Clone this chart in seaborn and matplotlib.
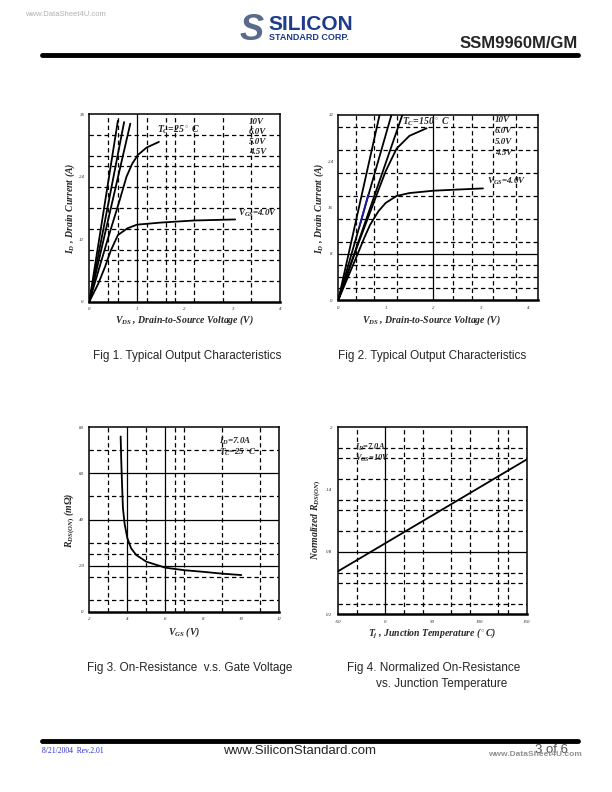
import numpy as np
import pandas as pd
import matplotlib
matplotlib.use("Agg")
import matplotlib.pyplot as plt
import seaborn as sns

# ---- data ----
# Fig 1, Tc = 25 C
f1_vds_10v = [0, 0.60]
f1_id_10v = [0, 34.8]
f1_vds_6v = [0, 0.73]
f1_id_6v = [0, 34.5]
f1_vds_5v = [0, 0.86]
f1_id_5v = [0, 34.2]
f1_vds_45v = [0, 0.2, 0.4, 0.64, 0.78, 0.9, 1.02, 1.2, 1.46]
f1_id_45v = [0, 6.2, 12.4, 19.6, 24.0, 26.5, 28.2, 29.6, 30.7]
f1_vds_4v = [0, 0.19, 0.33, 0.45, 0.6, 0.8, 1.0, 1.5, 2.2, 3.06]
f1_id_4v = [0, 3.5, 6.7, 9.8, 12.8, 14.1, 14.8, 15.2, 15.6, 15.8]

# Fig 2, Tc = 150 C
f2_vds_10v = [0, 0.87]
f2_id_10v = [0, 32.0]
f2_vds_6v = [0, 1.12]
f2_id_6v = [0, 32.0]
f2_vds_6v_blue = [0.45, 0.63]
f2_id_6v_blue = [12.8, 18.2]
f2_vds_5v = [0, 1.35]
f2_id_5v = [0, 32.0]
f2_vds_45v = [0, 0.4, 0.8, 1.0, 1.23, 1.5, 1.86]
f2_id_45v = [0, 9.3, 18.0, 22.3, 26.2, 28.4, 29.7]
f2_vds_4v = [0, 0.2, 0.39, 0.55, 0.67, 0.85, 1.0, 1.23, 1.5, 2.0, 2.5, 3.05]
f2_id_4v = [0, 3.9, 7.6, 10.8, 13.0, 15.4, 16.8, 18.0, 18.5, 18.9, 19.1, 19.3]

# Fig 3, RDS(on) vs VGS
f3_vgs = [3.65, 3.68, 3.72, 3.77, 3.86, 4.0, 4.2, 4.47, 5.0, 6.0, 7.0, 8.0, 9.0, 10.0]
f3_rds = [76, 66, 56, 45, 38, 32, 27.5, 24.6, 21.7, 19.1, 18.0, 17.3, 16.5, 15.9]

# Fig 4, normalized RDS(on) vs Tj
f4_tj = [-50, 0, 50, 100, 150]
f4_rn = [0.61, 0.88, 1.15, 1.42, 1.69]

# grid lines of each panel (dashed / solid)
f1_vdash = [0.4, 0.6, 1.2, 1.6, 1.8, 2.2, 2.8, 3.4]
f1_vsolid = [1.0]
f1_hdash = [4, 8, 10, 14, 18, 22, 26, 28, 32]
f1_hsolid = []
f2_vdash = [0.38, 0.76, 1.24, 2.42, 2.81, 3.26, 3.75]
f2_vsolid = [2.0]
f2_hdash = [2, 4, 6, 10, 14, 18, 22, 26, 30]
f2_hsolid = [8]
f3_vdash = [3, 5, 6.5, 7, 9, 11]
f3_vsolid = [4, 6]
f3_hdash = [5, 15, 25, 30, 50, 70]
f3_hsolid = [20, 40, 60]
f4_vdash = [-30, 20, 40, 70, 90, 120, 130]
f4_vsolid = [0]
f4_hdash = [0.3, 0.5, 0.6, 1.0, 1.2, 1.3, 1.5, 1.7, 1.8]
f4_hsolid = [0.8]

sns.set_style("white")
plt.rcParams['font.family'] = ['Liberation Serif', 'DejaVu Sans']
plt.rcParams['mathtext.fontset'] = 'custom'
plt.rcParams['mathtext.it'] = 'Liberation Serif:italic:bold'
plt.rcParams['mathtext.rm'] = 'Liberation Serif:bold'
plt.rcParams['mathtext.bf'] = 'Liberation Serif:bold'

W, H = 612, 792
fig = plt.figure(figsize=(6.12, 7.92), dpi=100)


def make_ax(left, top, right, bottom):
    return fig.add_axes([left / W, 1 - bottom / H, (right - left) / W, (bottom - top) / H])


def grid(ax, vdash, vsolid, hdash, hsolid):
    for v in vdash:
        ax.axvline(v, color='black', lw=0.9, ls=(0, (3.5, 2.5)), zorder=1)
    for v in vsolid:
        ax.axvline(v, color='black', lw=0.9, zorder=1)
    for h in hdash:
        ax.axhline(h, color='black', lw=0.9, ls=(0, (3.5, 2.5)), zorder=1)
    for h in hsolid:
        ax.axhline(h, color='black', lw=0.9, zorder=1)


def style(ax, xlim, ylim, xticks, yticks):
    ax.set_xlim(*xlim)
    ax.set_ylim(*ylim)
    ax.set_xticks(xticks)
    ax.set_yticks(yticks)
    ax.set_xticklabels([str(t) for t in xticks], fontsize=3.5, style='italic')
    ax.set_yticklabels([str(t) for t in yticks], fontsize=3.5, style='italic')
    ax.tick_params(length=0, pad=4)
    for s in ax.spines.values():
        s.set_color('black')
        s.set_linewidth(1.1)
    ax.spines['bottom'].set_linewidth(1.8)
    ax.set_xlabel('')
    ax.set_ylabel('')


def curve(ax, x, y, color='black', lw=1.3):
    sns.lineplot(x=x, y=y, ax=ax, color=color, lw=lw, estimator=None, sort=False, zorder=3)


lab = dict(fontsize=7, fontweight='bold', style='italic')
small = dict(fontsize=6.5, fontweight='bold', style='italic', va='center')

# ---------- Fig 1 ----------
ax1 = make_ax(89.3, 114.3, 280, 301.7)
grid(ax1, f1_vdash, f1_vsolid, f1_hdash, f1_hsolid)
for x, y in [(f1_vds_10v, f1_id_10v), (f1_vds_6v, f1_id_6v), (f1_vds_5v, f1_id_5v),
             (f1_vds_45v, f1_id_45v), (f1_vds_4v, f1_id_4v)]:
    curve(ax1, x, y)
style(ax1, (0, 4), (0, 36), [0, 1, 2, 3, 4], [0, 12, 24, 36])
ax1.text(1.43, 33.0, r'$T_C$=25$^\circ$ C', fontsize=7, fontweight='bold', style='italic', va='center')
for i, t in enumerate(['10V', '6.0V', '5.0V', '4.5V']):
    ax1.text(3.35, 34.6 - i * 1.95, t, **small)
ax1.text(3.12, 17.0, r'$V_{GS}$=4.0V', **small)
fig.text(70 / W, 1 - 208 / H, r'$I_D$ , Drain Current (A)', rotation=90, ha='center', va='center', **lab)
fig.text(185 / W, 1 - 320 / H, r'$V_{DS}$ , Drain-to-Source Voltage (V)', ha='center', va='center', **lab)

# ---------- Fig 2 ----------
ax2 = make_ax(338.3, 115, 538, 300)
grid(ax2, f2_vdash, f2_vsolid, f2_hdash, f2_hsolid)
for x, y in [(f2_vds_10v, f2_id_10v), (f2_vds_6v, f2_id_6v), (f2_vds_5v, f2_id_5v),
             (f2_vds_45v, f2_id_45v), (f2_vds_4v, f2_id_4v)]:
    curve(ax2, x, y)
curve(ax2, f2_vds_6v_blue, f2_id_6v_blue, color='#1a1aa8')
style(ax2, (0, 4.21), (0, 32), [0, 1, 2, 3, 4], [0, 8, 16, 24, 32])
ax2.text(1.34, 30.8, r'$T_C$=150$^\circ$ C', fontsize=7, fontweight='bold', style='italic', va='center')
for i, t in enumerate(['10V', '6.0V', '5.0V', '4.5V']):
    ax2.text(3.3, 31.1 - i * 1.9, t, **small)
ax2.text(3.13, 20.5, r'$V_{GS}$=4.0V', **small)
fig.text(319 / W, 1 - 208 / H, r'$I_D$ , Drain Current (A)', rotation=90, ha='center', va='center', **lab)
fig.text(432 / W, 1 - 320 / H, r'$V_{DS}$ , Drain-to-Source Voltage (V)', ha='center', va='center', **lab)

# ---------- Fig 3 ----------
ax3 = make_ax(89.3, 427.3, 279.3, 611.7)
grid(ax3, f3_vdash, f3_vsolid, f3_hdash, f3_hsolid)
curve(ax3, f3_vgs, f3_rds)
style(ax3, (2, 12), (0, 80), [2, 4, 6, 8, 10, 12], [0, 20, 40, 60, 80])
ax3.text(8.8, 74.0, r'$I_D$=7.0A', **small)
ax3.text(8.8, 69.0, r'$T_C$=25$^\circ$C', **small)
fig.text(70 / W, 1 - 520 / H, r'$R_{DS(ON)}$ (m$\Omega$)', rotation=90, ha='center', va='center', **lab)
fig.text(184 / W, 1 - 632 / H, r'$V_{GS}$ (V)', ha='center', va='center', **lab)

# ---------- Fig 4 ----------
ax4 = make_ax(337.7, 427.3, 526.7, 614)
grid(ax4, f4_vdash, f4_vsolid, f4_hdash, f4_hsolid)
curve(ax4, f4_tj, f4_rn)
style(ax4, (-50, 150), (0.2, 2.0), [-50, 0, 50, 100, 150], [0.2, 0.8, 1.4, 2])
ax4.text(-32, 1.81, r'$I_D$=7.0A', fontsize=6, fontweight='bold', style='italic', va='center')
ax4.text(-32, 1.70, r'$V_{GS}$=10V', fontsize=6, fontweight='bold', style='italic', va='center')
fig.text(316 / W, 1 - 520 / H, r'Normalized $R_{DS(ON)}$', rotation=90, ha='center', va='center', **lab)
fig.text(432 / W, 1 - 633 / H, r'$T_j$ , Junction Temperature ($^\circ$C)', ha='center', va='center', **lab)

# ---------- captions ----------
cap = dict(fontsize=8.5, family=['Liberation Sans', 'DejaVu Sans'], va='center')
fig.text(187 / W, 1 - 356 / H, 'Fig 1. Typical Output Characteristics', ha='center', **cap)
fig.text(432 / W, 1 - 356 / H, 'Fig 2. Typical Output Characteristics', ha='center', **cap)
fig.text(190 / W, 1 - 668 / H, 'Fig 3. On-Resistance  v.s. Gate Voltage', ha='center', **cap)
fig.text(347 / W, 1 - 668 / H, 'Fig 4. Normalized On-Resistance', ha='left', **cap)
fig.text(376 / W, 1 - 684 / H, 'vs. Junction Temperature', ha='left', **cap)

# ---------- header / footer ----------
fig.text(25 / W, 1 - 14 / H, 'www.DataSheet4U.com', fontsize=5.5, color='#b0b0b0',
         family=['Liberation Sans', 'DejaVu Sans'], va='center')
fig.text(240 / W, 1 - 31 / H, 'S', fontsize=26, color='#5a6a8a', fontweight='bold', style='italic',
         family=['Liberation Sans', 'DejaVu Sans'], va='center')
fig.text(268 / W, 1 - 25 / H, 'SILICON', fontsize=15, color='#1d3c8c', fontweight='bold',
         family=['Liberation Sans', 'DejaVu Sans'], va='center')
fig.text(269 / W, 1 - 38 / H, 'STANDARD CORP.', fontsize=6.5, color='#1d3c8c', fontweight='bold',
         family=['Liberation Sans', 'DejaVu Sans'], va='center')
fig.text(578 / W, 1 - 43 / H, 'SSM9960M/GM', fontsize=12, fontweight='bold', ha='right',
         family=['Liberation Sans', 'DejaVu Sans'], va='center')
fig.add_artist(plt.Line2D([42 / W, 578 / W], [1 - 55 / H, 1 - 55 / H], color='black', lw=3.5))
fig.add_artist(plt.Line2D([42 / W, 578 / W], [1 - 741 / H, 1 - 741 / H], color='black', lw=3.5))
fig.text(42 / W, 1 - 751 / H, '8/21/2004  Rev.2.01', fontsize=5.5, color='#2b2bd0', va='center')
fig.text(300 / W, 1 - 751 / H, 'www.SiliconStandard.com', fontsize=9.5, ha='center', va='center',
         family=['Liberation Sans', 'DejaVu Sans'])
fig.text(568 / W, 1 - 750 / H, '3 of 6', fontsize=9.5, ha='right', va='center', color='#555555',
         family=['Liberation Sans', 'DejaVu Sans'])
fig.text(582 / W, 1 - 755 / H, 'www.DataSheet4U.com', fontsize=6, ha='right', va='center', color='#909090',
         fontweight='bold', family=['Liberation Sans', 'DejaVu Sans'])

fig.savefig('out.png', dpi=100)
